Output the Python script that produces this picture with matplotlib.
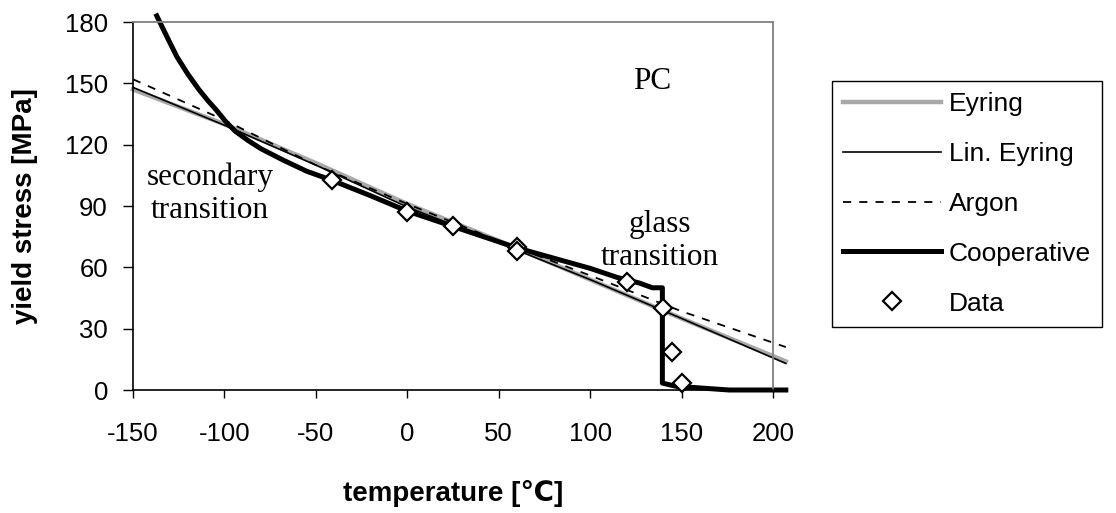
import matplotlib
matplotlib.use("Agg")
import matplotlib.pyplot as plt

plt.rcParams['font.family'] = ['Liberation Sans', 'DejaVu Sans']
plt.rcParams['axes.unicode_minus'] = False

# temperature [C] / yield stress [MPa]
eyring_t = [-150, -100, -50, 0, 50, 100, 150, 207]
eyring_s = [147, 130, 111, 91, 73, 54, 35, 14]

lin_eyring_t = [-150, -100, -50, 0, 50, 100, 150, 207]
lin_eyring_s = [148, 129.5, 110, 89.5, 72, 54, 35, 13]

argon_t = [-150, -100, -50, 0, 50, 100, 150, 207]
argon_s = [152, 132, 110, 91, 73, 56, 38.5, 21]

coop_t = [-137, -131, -126, -120, -114, -109, -104.5, -99, -94, -87, -80, -68, -55,
          -41, -20, 0, 25, 60, 100, 115, 127, 134, 139.5, 139.5, 145, 149, 157, 176, 207]
coop_s = [183, 172, 163, 154.5, 147, 141.5, 137, 131, 126.5, 122, 118, 112.5, 107,
          102.5, 95, 87.5, 80, 69.5, 59.5, 55, 52.3, 50, 50, 3.4, 2.2, 1.5, 1.2, 0, 0]

data_t = [-41, 0, 25, 60, 60, 120, 140, 145, 150]
data_s = [102.5, 87, 80, 70, 68, 53, 40, 18.5, 3.5]

x_ticks = [-150, -100, -50, 0, 50, 100, 150, 200]
y_ticks = [0, 30, 60, 90, 120, 150, 180]

fig = plt.figure(figsize=(11.16, 5.13), dpi=100)
ax = fig.add_axes([133 / 1116, 123 / 513, 640 / 1116, 368 / 513])

ax.plot(eyring_t, eyring_s, color='#a8a8a8', lw=3.2, label='Eyring', clip_on=False)
ax.plot(lin_eyring_t, lin_eyring_s, color='black', lw=1.2, label='Lin. Eyring', clip_on=False)
ax.plot(argon_t, argon_s, color='black', lw=1.3, dashes=(4.5, 4.5), label='Argon', clip_on=False)
ax.plot(coop_t, coop_s, color='black', lw=3.6, label='Cooperative', clip_on=False,
        solid_joinstyle='round')
ax.plot(data_t, data_s, ls='none', marker='D', markersize=9.5, mfc='white', mec='black',
        mew=1.6, label='Data', clip_on=False, zorder=5)

ax.set_xlim(-150, 200)
ax.set_ylim(0, 180)
ax.set_xticks(x_ticks)
ax.set_yticks(y_ticks)
ax.tick_params(axis='x', direction='out', length=6, width=1, pad=17, labelsize=18.5)
ax.tick_params(axis='y', direction='out', length=7, width=1, pad=11, labelsize=18.5)

for side in ['top', 'right']:
    ax.spines[side].set_color('#808080')
    ax.spines[side].set_linewidth(1.3)
for side in ['left', 'bottom']:
    ax.spines[side].set_color('black')
    ax.spines[side].set_linewidth(1.2)

ax.set_xlabel('temperature [℃]', fontsize=20, fontweight='bold')
ax.set_ylabel('yield stress [MPa]', fontsize=20, fontweight='bold')
ax.xaxis.set_label_coords(0.5, -0.245)
ax.yaxis.set_label_coords(-0.148, 0.5)

serif = dict(family='Liberation Serif', fontsize=22.5, ha='center', va='center')
ax.text(134, 150.7, 'PC', **serif)
ax.text(-108, 96, 'secondary\ntransition', linespacing=1.2, **serif)
ax.text(138, 73, 'glass\ntransition', linespacing=1.2, **serif)

leg = ax.legend(loc='upper left', bbox_to_anchor=(832 / 1116, 432 / 513),
                bbox_transform=fig.transFigure, borderaxespad=0, fontsize=19,
                frameon=True, fancybox=False, framealpha=1, edgecolor='black',
                borderpad=0.42, labelspacing=0.98, handlelength=3.7,
                handletextpad=0.3, numpoints=1)
leg.get_frame().set_linewidth(1.0)

fig.savefig('out.png', dpi=100)
